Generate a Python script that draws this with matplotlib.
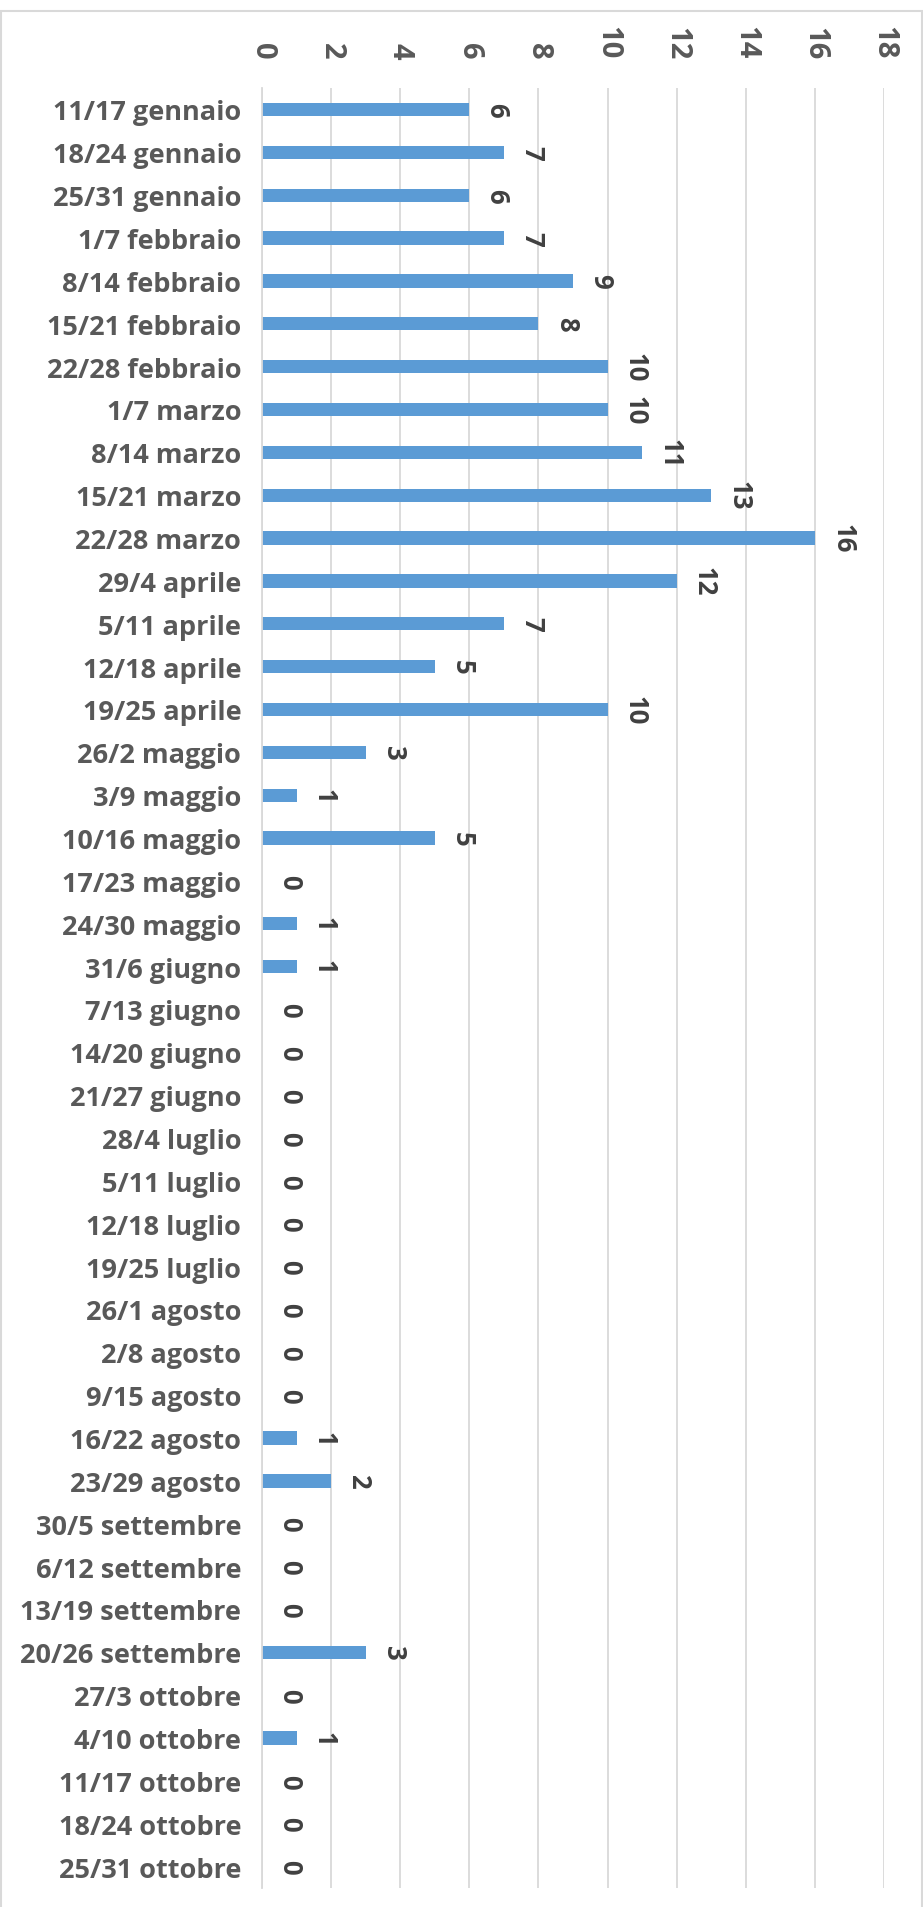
import matplotlib.pyplot as plt
import matplotlib.patches as patches
import numpy as np

settimane = [
    "11/17 gennaio", "18/24 gennaio", "25/31 gennaio", "1/7 febbraio",
    "8/14 febbraio", "15/21 febbraio", "22/28 febbraio", "1/7 marzo",
    "8/14 marzo", "15/21 marzo", "22/28 marzo", "29/4 aprile",
    "5/11 aprile", "12/18 aprile", "19/25 aprile", "26/2 maggio",
    "3/9 maggio", "10/16 maggio", "17/23 maggio", "24/30 maggio",
    "31/6 giugno", "7/13 giugno", "14/20 giugno", "21/27 giugno",
    "28/4 luglio", "5/11 luglio", "12/18 luglio", "19/25 luglio",
    "26/1 agosto", "2/8 agosto", "9/15 agosto", "16/22 agosto",
    "23/29 agosto", "30/5 settembre", "6/12 settembre", "13/19 settembre",
    "20/26 settembre", "27/3 ottobre", "4/10 ottobre", "11/17 ottobre",
    "18/24 ottobre", "25/31 ottobre",
]
valori = [
    6, 7, 6, 7, 9, 8, 10, 10, 11, 13, 16, 12, 7, 5, 10, 3, 1, 5, 0, 1,
    1, 0, 0, 0, 0, 0, 0, 0, 0, 0, 0, 1, 2, 0, 0, 0, 3, 0, 1, 0, 0, 0,
]
tick_x = list(range(0, 19, 2))

testo = "#595959"
etichette = "#404040"
griglia = "#D9D9D9"
barra = "#5B9BD5"

plt.rcParams['font.family'] = ['Open Sans', 'DejaVu Sans']

fig = plt.figure(figsize=(9.23, 19.08), dpi=100)
ax = fig.add_axes([262 / 923, 1 - 1889 / 1908, (884 - 262) / 923, (1889 - 89) / 1908])

# cornice grigia attorno al grafico
fig.patches.append(patches.Rectangle(
    (0.001, -0.01), 0.998, 1 - 12 / 1908 + 0.01,
    transform=fig.transFigure, fill=False, edgecolor=griglia, linewidth=1.5
))

y = np.arange(len(settimane))
ax.barh(y, valori, height=0.31, color=barra, zorder=3)

# etichette dei valori, ruotate come nell'originale
for yi, v in zip(y, valori):
    ax.annotate(str(v), (v, yi), xytext=(20, 0), textcoords='offset points',
                ha='center', va='center', rotation=-90,
                fontsize=18.5, fontweight='bold', color=etichette)

ax.set_xlim(0, 18)
ax.set_ylim(len(settimane) - 0.5, -0.5)
ax.set_xticks(tick_x)
ax.set_xticklabels([str(t) for t in tick_x], fontweight='bold', rotation=-90)
ax.set_yticks(y)
ax.set_yticklabels(settimane, fontweight='bold')
ax.xaxis.tick_top()
ax.tick_params(axis='x', length=0, pad=21, labelsize=21, labelcolor=testo)
ax.tick_params(axis='y', length=0, pad=15, labelsize=19.5, labelcolor=testo)

ax.grid(axis='x', color=griglia, linewidth=1.3, zorder=0)
for s in ['top', 'right', 'bottom']:
    ax.spines[s].set_visible(False)
ax.spines['left'].set_color(griglia)
ax.spines['left'].set_linewidth(1.3)
ax.spines['left'].set_zorder(4)

fig.savefig("out.png", dpi=100)
